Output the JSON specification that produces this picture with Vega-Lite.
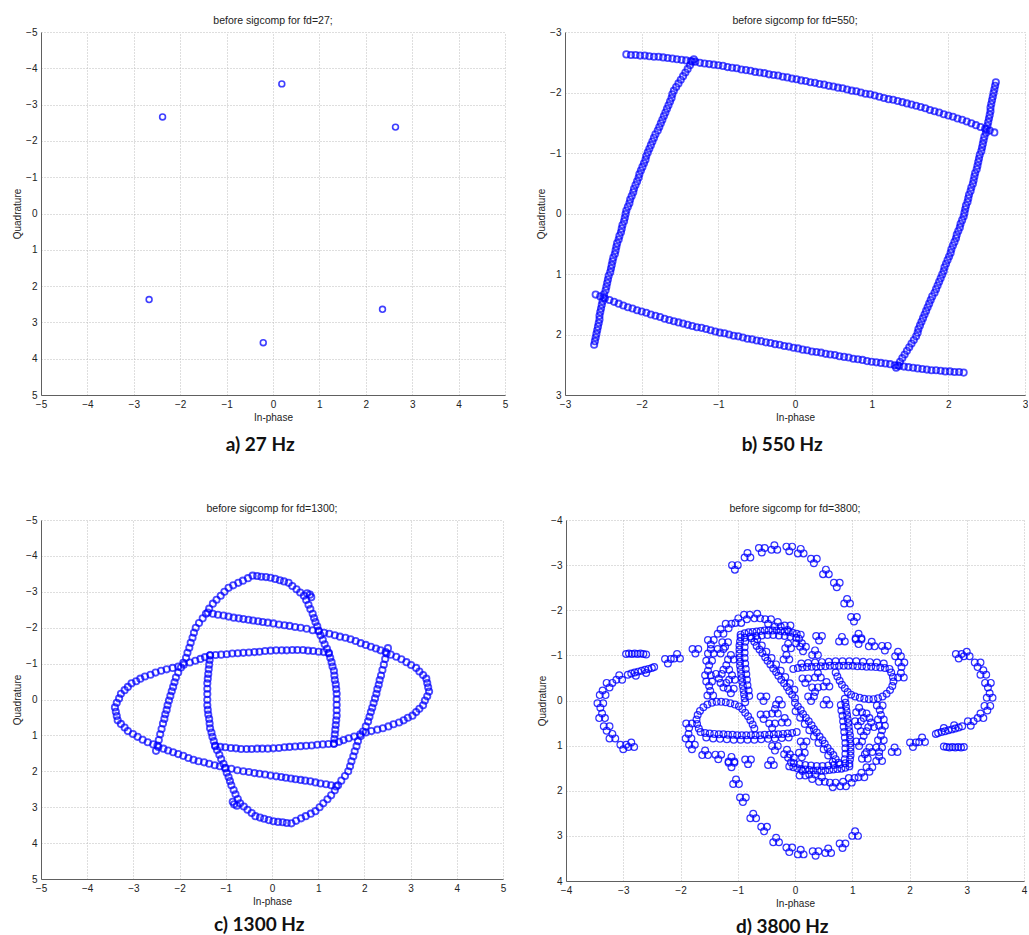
{
"$schema": "https://vega.github.io/schema/vega-lite/v6.json",
"background": "white",
"padding": {"left": 12, "top": 15, "right": 0, "bottom": 0},
"config": {
  "view": {"stroke": null},
  "axis": {"grid": true, "gridColor": "#bdbdbd", "gridDash": [1, 2], "gridWidth": 1, "domainColor": "#606060", "domainWidth": 1, "ticks": false, "labelFont": "Liberation Sans", "labelFontSize": 10, "labelColor": "#222", "labelPadding": 4, "labelFlush": false, "labelOverlap": false, "titleFont": "Liberation Sans", "titleFontSize": 10, "titleFontWeight": "normal", "titleColor": "#222", "titlePadding": 3}
},
"datasets": {
"a": [{"x":-2.38,"y":-2.66},{"x":0.19,"y":-3.57},{"x":2.64,"y":-2.38},{"x":-2.67,"y":2.37},{"x":-0.21,"y":3.56},{"x":2.36,"y":2.64}],
"b": [
{"x":-2.20,"y":-2.63},{"x":-2.14,"y":-2.62},{"x":-2.08,"y":-2.62},{"x":-2.02,"y":-2.61},{"x":-1.96,"y":-2.61},{"x":-1.90,"y":-2.60},{"x":-1.84,"y":-2.59},{"x":-1.78,"y":-2.59},{"x":-1.72,"y":-2.58},{"x":-1.66,"y":-2.57},{"x":-1.60,"y":-2.56},{"x":-1.54,"y":-2.55},{"x":-1.48,"y":-2.54},{"x":-1.42,"y":-2.53},{"x":-1.36,"y":-2.52},{"x":-1.30,"y":-2.51},{"x":-1.24,"y":-2.49},{"x":-1.18,"y":-2.48},{"x":-1.12,"y":-2.47},{"x":-1.06,"y":-2.46},{"x":-1.00,"y":-2.45},{"x":-0.94,"y":-2.44},{"x":-0.88,"y":-2.42},{"x":-0.82,"y":-2.41},{"x":-0.76,"y":-2.40},{"x":-0.70,"y":-2.38},{"x":-0.64,"y":-2.37},{"x":-0.58,"y":-2.36},{"x":-0.52,"y":-2.34},{"x":-0.46,"y":-2.33},{"x":-0.40,"y":-2.32},{"x":-0.34,"y":-2.30},{"x":-0.28,"y":-2.29},{"x":-0.22,"y":-2.28},{"x":-0.16,"y":-2.26},{"x":-0.10,"y":-2.25},{"x":-0.04,"y":-2.23},{"x":0.02,"y":-2.22},{"x":0.08,"y":-2.20},{"x":0.14,"y":-2.19},{"x":0.20,"y":-2.17},{"x":0.26,"y":-2.16},{"x":0.32,"y":-2.14},{"x":0.38,"y":-2.13},{"x":0.44,"y":-2.11},{"x":0.50,"y":-2.10},{"x":0.56,"y":-2.08},{"x":0.62,"y":-2.07},{"x":0.68,"y":-2.05},{"x":0.74,"y":-2.03},{"x":0.80,"y":-2.02},{"x":0.86,"y":-2.00},{"x":0.92,"y":-1.98},{"x":0.98,"y":-1.97},{"x":1.04,"y":-1.95},{"x":1.10,"y":-1.93},{"x":1.16,"y":-1.91},{"x":1.22,"y":-1.89},{"x":1.28,"y":-1.88},{"x":1.34,"y":-1.86},{"x":1.40,"y":-1.84},{"x":1.46,"y":-1.82},{"x":1.52,"y":-1.80},{"x":1.58,"y":-1.78},{"x":1.64,"y":-1.76},{"x":1.70,"y":-1.74},{"x":1.76,"y":-1.71},{"x":1.82,"y":-1.69},{"x":1.88,"y":-1.67},{"x":1.94,"y":-1.64},{"x":2.00,"y":-1.62},{"x":2.06,"y":-1.60},{"x":2.12,"y":-1.57},{"x":2.18,"y":-1.55},{"x":2.24,"y":-1.52},{"x":2.30,"y":-1.49},{"x":2.36,"y":-1.46},{"x":2.42,"y":-1.43},{"x":2.48,"y":-1.40},{"x":2.54,"y":-1.37},{"x":2.60,"y":-1.34},
{"x":2.20,"y":2.63},{"x":2.14,"y":2.62},{"x":2.08,"y":2.62},{"x":2.02,"y":2.61},{"x":1.96,"y":2.61},{"x":1.90,"y":2.60},{"x":1.84,"y":2.59},{"x":1.78,"y":2.59},{"x":1.72,"y":2.58},{"x":1.66,"y":2.57},{"x":1.60,"y":2.56},{"x":1.54,"y":2.55},{"x":1.48,"y":2.54},{"x":1.42,"y":2.53},{"x":1.36,"y":2.52},{"x":1.30,"y":2.51},{"x":1.24,"y":2.49},{"x":1.18,"y":2.48},{"x":1.12,"y":2.47},{"x":1.06,"y":2.46},{"x":1.00,"y":2.45},{"x":0.94,"y":2.44},{"x":0.88,"y":2.42},{"x":0.82,"y":2.41},{"x":0.76,"y":2.40},{"x":0.70,"y":2.38},{"x":0.64,"y":2.37},{"x":0.58,"y":2.36},{"x":0.52,"y":2.34},{"x":0.46,"y":2.33},{"x":0.40,"y":2.32},{"x":0.34,"y":2.30},{"x":0.28,"y":2.29},{"x":0.22,"y":2.28},{"x":0.16,"y":2.26},{"x":0.10,"y":2.25},{"x":0.04,"y":2.23},{"x":-0.02,"y":2.22},{"x":-0.08,"y":2.20},{"x":-0.14,"y":2.19},{"x":-0.20,"y":2.17},{"x":-0.26,"y":2.16},{"x":-0.32,"y":2.14},{"x":-0.38,"y":2.13},{"x":-0.44,"y":2.11},{"x":-0.50,"y":2.10},{"x":-0.56,"y":2.08},{"x":-0.62,"y":2.07},{"x":-0.68,"y":2.05},{"x":-0.74,"y":2.03},{"x":-0.80,"y":2.02},{"x":-0.86,"y":2.00},{"x":-0.92,"y":1.98},{"x":-0.98,"y":1.97},{"x":-1.04,"y":1.95},{"x":-1.10,"y":1.93},{"x":-1.16,"y":1.91},{"x":-1.22,"y":1.89},{"x":-1.28,"y":1.88},{"x":-1.34,"y":1.86},{"x":-1.40,"y":1.84},{"x":-1.46,"y":1.82},{"x":-1.52,"y":1.80},{"x":-1.58,"y":1.78},{"x":-1.64,"y":1.76},{"x":-1.70,"y":1.74},{"x":-1.76,"y":1.71},{"x":-1.82,"y":1.69},{"x":-1.88,"y":1.67},{"x":-1.94,"y":1.64},{"x":-2.00,"y":1.62},{"x":-2.06,"y":1.60},{"x":-2.12,"y":1.57},{"x":-2.18,"y":1.55},{"x":-2.24,"y":1.52},{"x":-2.30,"y":1.49},{"x":-2.36,"y":1.46},{"x":-2.42,"y":1.43},{"x":-2.48,"y":1.40},{"x":-2.54,"y":1.37},{"x":-2.60,"y":1.34},
{"x":2.62,"y":-2.17},{"x":2.61,"y":-2.11},{"x":2.60,"y":-2.05},{"x":2.59,"y":-1.99},{"x":2.58,"y":-1.93},{"x":2.57,"y":-1.87},{"x":2.56,"y":-1.81},{"x":2.55,"y":-1.75},{"x":2.55,"y":-1.69},{"x":2.54,"y":-1.63},{"x":2.53,"y":-1.57},{"x":2.52,"y":-1.51},{"x":2.51,"y":-1.45},{"x":2.50,"y":-1.39},{"x":2.49,"y":-1.33},{"x":2.47,"y":-1.27},{"x":2.46,"y":-1.21},{"x":2.45,"y":-1.15},{"x":2.44,"y":-1.09},{"x":2.43,"y":-1.03},{"x":2.41,"y":-0.97},{"x":2.40,"y":-0.91},{"x":2.39,"y":-0.85},{"x":2.38,"y":-0.79},{"x":2.37,"y":-0.73},{"x":2.35,"y":-0.67},{"x":2.34,"y":-0.61},{"x":2.33,"y":-0.55},{"x":2.32,"y":-0.49},{"x":2.30,"y":-0.43},{"x":2.29,"y":-0.37},{"x":2.27,"y":-0.31},{"x":2.26,"y":-0.25},{"x":2.25,"y":-0.19},{"x":2.23,"y":-0.13},{"x":2.22,"y":-0.07},{"x":2.21,"y":-0.01},{"x":2.20,"y":0.05},{"x":2.18,"y":0.11},{"x":2.16,"y":0.17},{"x":2.15,"y":0.23},{"x":2.13,"y":0.29},{"x":2.11,"y":0.35},{"x":2.10,"y":0.41},{"x":2.08,"y":0.47},{"x":2.06,"y":0.53},{"x":2.04,"y":0.59},{"x":2.03,"y":0.65},{"x":2.01,"y":0.71},{"x":1.99,"y":0.77},{"x":1.97,"y":0.83},{"x":1.95,"y":0.89},{"x":1.94,"y":0.95},{"x":1.92,"y":1.01},{"x":1.90,"y":1.07},{"x":1.88,"y":1.13},{"x":1.86,"y":1.19},{"x":1.84,"y":1.25},{"x":1.82,"y":1.31},{"x":1.79,"y":1.37},{"x":1.77,"y":1.43},{"x":1.75,"y":1.49},{"x":1.73,"y":1.55},{"x":1.71,"y":1.61},{"x":1.69,"y":1.67},{"x":1.67,"y":1.73},{"x":1.65,"y":1.79},{"x":1.63,"y":1.85},{"x":1.61,"y":1.91},{"x":1.60,"y":1.97},{"x":1.58,"y":2.03},{"x":1.55,"y":2.09},{"x":1.52,"y":2.15},{"x":1.49,"y":2.21},{"x":1.46,"y":2.27},{"x":1.43,"y":2.33},{"x":1.40,"y":2.39},{"x":1.37,"y":2.45},{"x":1.34,"y":2.51},{"x":1.32,"y":2.55},
{"x":-2.62,"y":2.17},{"x":-2.61,"y":2.11},{"x":-2.60,"y":2.05},{"x":-2.59,"y":1.99},{"x":-2.58,"y":1.93},{"x":-2.57,"y":1.87},{"x":-2.56,"y":1.81},{"x":-2.55,"y":1.75},{"x":-2.55,"y":1.69},{"x":-2.54,"y":1.63},{"x":-2.53,"y":1.57},{"x":-2.52,"y":1.51},{"x":-2.51,"y":1.45},{"x":-2.50,"y":1.39},{"x":-2.49,"y":1.33},{"x":-2.47,"y":1.27},{"x":-2.46,"y":1.21},{"x":-2.45,"y":1.15},{"x":-2.44,"y":1.09},{"x":-2.43,"y":1.03},{"x":-2.41,"y":0.97},{"x":-2.40,"y":0.91},{"x":-2.39,"y":0.85},{"x":-2.38,"y":0.79},{"x":-2.37,"y":0.73},{"x":-2.35,"y":0.67},{"x":-2.34,"y":0.61},{"x":-2.33,"y":0.55},{"x":-2.32,"y":0.49},{"x":-2.30,"y":0.43},{"x":-2.29,"y":0.37},{"x":-2.27,"y":0.31},{"x":-2.26,"y":0.25},{"x":-2.25,"y":0.19},{"x":-2.23,"y":0.13},{"x":-2.22,"y":0.07},{"x":-2.21,"y":0.01},{"x":-2.20,"y":-0.05},{"x":-2.18,"y":-0.11},{"x":-2.16,"y":-0.17},{"x":-2.15,"y":-0.23},{"x":-2.13,"y":-0.29},{"x":-2.11,"y":-0.35},{"x":-2.10,"y":-0.41},{"x":-2.08,"y":-0.47},{"x":-2.06,"y":-0.53},{"x":-2.04,"y":-0.59},{"x":-2.03,"y":-0.65},{"x":-2.01,"y":-0.71},{"x":-1.99,"y":-0.77},{"x":-1.97,"y":-0.83},{"x":-1.95,"y":-0.89},{"x":-1.94,"y":-0.95},{"x":-1.92,"y":-1.01},{"x":-1.90,"y":-1.07},{"x":-1.88,"y":-1.13},{"x":-1.86,"y":-1.19},{"x":-1.84,"y":-1.25},{"x":-1.82,"y":-1.31},{"x":-1.79,"y":-1.37},{"x":-1.77,"y":-1.43},{"x":-1.75,"y":-1.49},{"x":-1.73,"y":-1.55},{"x":-1.71,"y":-1.61},{"x":-1.69,"y":-1.67},{"x":-1.67,"y":-1.73},{"x":-1.65,"y":-1.79},{"x":-1.63,"y":-1.85},{"x":-1.61,"y":-1.91},{"x":-1.60,"y":-1.97},{"x":-1.58,"y":-2.03},{"x":-1.55,"y":-2.09},{"x":-1.52,"y":-2.15},{"x":-1.49,"y":-2.21},{"x":-1.46,"y":-2.27},{"x":-1.43,"y":-2.33},{"x":-1.40,"y":-2.39},{"x":-1.37,"y":-2.45},{"x":-1.34,"y":-2.51},{"x":-1.32,"y":-2.55}
],
"c": [
{"x":-2.51,"y":1.43},{"x":-2.48,"y":1.28},{"x":-2.45,"y":1.13},{"x":-2.42,"y":0.97},{"x":-2.39,"y":0.82},{"x":-2.36,"y":0.67},{"x":-2.33,"y":0.54},{"x":-2.31,"y":0.41},{"x":-2.28,"y":0.29},{"x":-2.26,"y":0.16},{"x":-2.23,"y":0.03},{"x":-2.20,"y":-0.10},{"x":-2.17,"y":-0.23},{"x":-2.14,"y":-0.35},{"x":-2.11,"y":-0.48},{"x":-2.08,"y":-0.61},{"x":-2.03,"y":-0.75},{"x":-1.97,"y":-0.89},{"x":-1.92,"y":-1.02},{"x":-1.86,"y":-1.16},{"x":-1.83,"y":-1.30},{"x":-1.79,"y":-1.44},{"x":-1.76,"y":-1.58},{"x":-1.72,"y":-1.72},{"x":-1.69,"y":-1.86},{"x":-1.65,"y":-2.00},{"x":-1.58,"y":-2.13},{"x":-1.50,"y":-2.26},{"x":-1.43,"y":-2.39},{"x":-1.36,"y":-2.53},{"x":-1.28,"y":-2.67},{"x":-1.20,"y":-2.78},{"x":-1.11,"y":-2.89},{"x":-1.03,"y":-3.00},{"x":-0.94,"y":-3.11},{"x":-0.84,"y":-3.18},{"x":-0.73,"y":-3.25},{"x":-0.63,"y":-3.31},{"x":-0.52,"y":-3.38},{"x":-0.42,"y":-3.45},{"x":-0.32,"y":-3.44},{"x":-0.23,"y":-3.42},{"x":-0.13,"y":-3.41},{"x":-0.03,"y":-3.39},{"x":0.07,"y":-3.36},{"x":0.17,"y":-3.32},{"x":0.26,"y":-3.29},{"x":0.36,"y":-3.25},{"x":0.44,"y":-3.16},{"x":0.53,"y":-3.07},{"x":0.61,"y":-2.98},{"x":0.69,"y":-2.89},{"x":0.74,"y":-2.77},{"x":0.79,"y":-2.64},{"x":0.83,"y":-2.52},{"x":0.88,"y":-2.39},{"x":0.91,"y":-2.27},{"x":0.94,"y":-2.16},{"x":0.98,"y":-2.04},{"x":1.01,"y":-1.92},{"x":1.05,"y":-1.79},{"x":1.10,"y":-1.66},{"x":1.14,"y":-1.54},{"x":1.19,"y":-1.41},{"x":1.23,"y":-1.28},{"x":1.26,"y":-1.16},{"x":1.29,"y":-1.04},{"x":1.31,"y":-0.92},{"x":1.34,"y":-0.80},{"x":1.35,"y":-0.67},{"x":1.36,"y":-0.54},{"x":1.38,"y":-0.42},{"x":1.39,"y":-0.29},{"x":1.40,"y":-0.16},{"x":1.40,"y":-0.01},{"x":1.40,"y":0.15},{"x":1.40,"y":0.30},{"x":1.40,"y":0.45},{"x":1.39,"y":0.58},{"x":1.38,"y":0.71},{"x":1.37,"y":0.84},{"x":1.36,"y":0.97},{"x":1.35,"y":1.10},{"x":1.34,"y":1.23},
{"x":2.51,"y":-1.43},{"x":2.48,"y":-1.28},{"x":2.45,"y":-1.13},{"x":2.42,"y":-0.97},{"x":2.39,"y":-0.82},{"x":2.36,"y":-0.67},{"x":2.33,"y":-0.54},{"x":2.31,"y":-0.41},{"x":2.28,"y":-0.29},{"x":2.26,"y":-0.16},{"x":2.23,"y":-0.03},{"x":2.20,"y":0.10},{"x":2.17,"y":0.23},{"x":2.14,"y":0.35},{"x":2.11,"y":0.48},{"x":2.08,"y":0.61},{"x":2.03,"y":0.75},{"x":1.97,"y":0.89},{"x":1.92,"y":1.02},{"x":1.86,"y":1.16},{"x":1.83,"y":1.30},{"x":1.79,"y":1.44},{"x":1.76,"y":1.58},{"x":1.72,"y":1.72},{"x":1.69,"y":1.86},{"x":1.65,"y":2.00},{"x":1.58,"y":2.13},{"x":1.50,"y":2.26},{"x":1.43,"y":2.39},{"x":1.36,"y":2.53},{"x":1.28,"y":2.67},{"x":1.20,"y":2.78},{"x":1.11,"y":2.89},{"x":1.03,"y":3.00},{"x":0.94,"y":3.11},{"x":0.84,"y":3.18},{"x":0.73,"y":3.25},{"x":0.63,"y":3.31},{"x":0.52,"y":3.38},{"x":0.42,"y":3.45},{"x":0.32,"y":3.44},{"x":0.23,"y":3.42},{"x":0.13,"y":3.41},{"x":0.03,"y":3.39},{"x":-0.07,"y":3.36},{"x":-0.17,"y":3.32},{"x":-0.26,"y":3.29},{"x":-0.36,"y":3.25},{"x":-0.44,"y":3.16},{"x":-0.53,"y":3.07},{"x":-0.61,"y":2.98},{"x":-0.69,"y":2.89},{"x":-0.74,"y":2.77},{"x":-0.79,"y":2.64},{"x":-0.83,"y":2.52},{"x":-0.88,"y":2.39},{"x":-0.91,"y":2.27},{"x":-0.94,"y":2.16},{"x":-0.98,"y":2.04},{"x":-1.01,"y":1.92},{"x":-1.05,"y":1.79},{"x":-1.10,"y":1.66},{"x":-1.14,"y":1.54},{"x":-1.19,"y":1.41},{"x":-1.23,"y":1.28},{"x":-1.26,"y":1.16},{"x":-1.29,"y":1.04},{"x":-1.31,"y":0.92},{"x":-1.34,"y":0.80},{"x":-1.35,"y":0.67},{"x":-1.36,"y":0.54},{"x":-1.38,"y":0.42},{"x":-1.39,"y":0.29},{"x":-1.40,"y":0.16},{"x":-1.40,"y":0.01},{"x":-1.40,"y":-0.15},{"x":-1.40,"y":-0.30},{"x":-1.40,"y":-0.45},{"x":-1.39,"y":-0.58},{"x":-1.38,"y":-0.71},{"x":-1.37,"y":-0.84},{"x":-1.36,"y":-0.97},{"x":-1.35,"y":-1.10},{"x":-1.34,"y":-1.23},
{"x":-1.23,"y":1.30},{"x":-1.12,"y":1.32},{"x":-1.01,"y":1.33},{"x":-0.89,"y":1.35},{"x":-0.78,"y":1.36},{"x":-0.67,"y":1.38},{"x":-0.55,"y":1.38},{"x":-0.44,"y":1.38},{"x":-0.32,"y":1.37},{"x":-0.21,"y":1.37},{"x":-0.09,"y":1.37},{"x":0.03,"y":1.36},{"x":0.15,"y":1.35},{"x":0.27,"y":1.33},{"x":0.38,"y":1.32},{"x":0.50,"y":1.31},{"x":0.62,"y":1.30},{"x":0.74,"y":1.29},{"x":0.86,"y":1.28},{"x":0.98,"y":1.26},{"x":1.10,"y":1.25},{"x":1.22,"y":1.24},{"x":1.34,"y":1.23},{"x":1.45,"y":1.18},{"x":1.55,"y":1.13},{"x":1.66,"y":1.08},{"x":1.78,"y":1.03},{"x":1.91,"y":0.97},{"x":2.03,"y":0.92},{"x":2.15,"y":0.88},{"x":2.28,"y":0.84},{"x":2.40,"y":0.80},{"x":2.52,"y":0.75},{"x":2.63,"y":0.69},{"x":2.75,"y":0.64},{"x":2.85,"y":0.58},{"x":2.94,"y":0.51},{"x":3.04,"y":0.45},{"x":3.12,"y":0.35},{"x":3.19,"y":0.26},{"x":3.27,"y":0.16},{"x":3.31,"y":0.03},{"x":3.36,"y":-0.09},{"x":3.40,"y":-0.22},{"x":3.38,"y":-0.34},{"x":3.36,"y":-0.46},{"x":3.34,"y":-0.58},{"x":3.27,"y":-0.68},{"x":3.19,"y":-0.78},{"x":3.12,"y":-0.88},{"x":3.01,"y":-0.96},{"x":2.91,"y":-1.04},{"x":2.80,"y":-1.12},{"x":2.69,"y":-1.19},{"x":2.57,"y":-1.25},{"x":2.46,"y":-1.32},{"x":2.35,"y":-1.37},{"x":2.25,"y":-1.42},{"x":2.14,"y":-1.47},{"x":2.03,"y":-1.52},{"x":1.92,"y":-1.57},{"x":1.81,"y":-1.63},{"x":1.70,"y":-1.68},{"x":1.59,"y":-1.72},{"x":1.47,"y":-1.75},{"x":1.36,"y":-1.79},{"x":1.24,"y":-1.83},{"x":1.13,"y":-1.86},{"x":1.01,"y":-1.90},{"x":0.88,"y":-1.93},{"x":0.75,"y":-1.97},{"x":0.62,"y":-2.00},{"x":0.50,"y":-2.02},{"x":0.38,"y":-2.05},{"x":0.27,"y":-2.07},{"x":0.15,"y":-2.09},{"x":0.03,"y":-2.12},{"x":-0.09,"y":-2.14},{"x":-0.20,"y":-2.16},{"x":-0.30,"y":-2.18},{"x":-0.41,"y":-2.20},{"x":-0.51,"y":-2.22},{"x":-0.62,"y":-2.24},{"x":-0.72,"y":-2.26},{"x":-0.83,"y":-2.28},{"x":-0.94,"y":-2.31},{"x":-1.05,"y":-2.34},{"x":-1.17,"y":-2.36},{"x":-1.28,"y":-2.39},{"x":-1.39,"y":-2.42},
{"x":1.23,"y":-1.30},{"x":1.12,"y":-1.32},{"x":1.01,"y":-1.33},{"x":0.89,"y":-1.35},{"x":0.78,"y":-1.36},{"x":0.67,"y":-1.38},{"x":0.55,"y":-1.38},{"x":0.44,"y":-1.38},{"x":0.32,"y":-1.37},{"x":0.21,"y":-1.37},{"x":0.09,"y":-1.37},{"x":-0.03,"y":-1.36},{"x":-0.15,"y":-1.35},{"x":-0.27,"y":-1.33},{"x":-0.38,"y":-1.32},{"x":-0.50,"y":-1.31},{"x":-0.62,"y":-1.30},{"x":-0.74,"y":-1.29},{"x":-0.86,"y":-1.28},{"x":-0.98,"y":-1.26},{"x":-1.10,"y":-1.25},{"x":-1.22,"y":-1.24},{"x":-1.34,"y":-1.23},{"x":-1.45,"y":-1.18},{"x":-1.55,"y":-1.13},{"x":-1.66,"y":-1.08},{"x":-1.78,"y":-1.03},{"x":-1.91,"y":-0.97},{"x":-2.03,"y":-0.92},{"x":-2.15,"y":-0.88},{"x":-2.28,"y":-0.84},{"x":-2.40,"y":-0.80},{"x":-2.52,"y":-0.75},{"x":-2.63,"y":-0.69},{"x":-2.75,"y":-0.64},{"x":-2.85,"y":-0.58},{"x":-2.94,"y":-0.51},{"x":-3.04,"y":-0.45},{"x":-3.12,"y":-0.35},{"x":-3.19,"y":-0.26},{"x":-3.27,"y":-0.16},{"x":-3.31,"y":-0.03},{"x":-3.36,"y":0.09},{"x":-3.40,"y":0.22},{"x":-3.38,"y":0.34},{"x":-3.36,"y":0.46},{"x":-3.34,"y":0.58},{"x":-3.27,"y":0.68},{"x":-3.19,"y":0.78},{"x":-3.12,"y":0.88},{"x":-3.01,"y":0.96},{"x":-2.91,"y":1.04},{"x":-2.80,"y":1.12},{"x":-2.69,"y":1.19},{"x":-2.57,"y":1.25},{"x":-2.46,"y":1.32},{"x":-2.35,"y":1.37},{"x":-2.25,"y":1.42},{"x":-2.14,"y":1.47},{"x":-2.03,"y":1.52},{"x":-1.92,"y":1.57},{"x":-1.81,"y":1.63},{"x":-1.70,"y":1.68},{"x":-1.59,"y":1.72},{"x":-1.47,"y":1.75},{"x":-1.36,"y":1.79},{"x":-1.24,"y":1.83},{"x":-1.13,"y":1.86},{"x":-1.01,"y":1.90},{"x":-0.88,"y":1.93},{"x":-0.75,"y":1.97},{"x":-0.62,"y":2.00},{"x":-0.50,"y":2.02},{"x":-0.38,"y":2.05},{"x":-0.27,"y":2.07},{"x":-0.15,"y":2.09},{"x":-0.03,"y":2.12},{"x":0.09,"y":2.14},{"x":0.20,"y":2.16},{"x":0.30,"y":2.18},{"x":0.41,"y":2.20},{"x":0.51,"y":2.22},{"x":0.62,"y":2.24},{"x":0.72,"y":2.26},{"x":0.83,"y":2.28},{"x":0.94,"y":2.31},{"x":1.05,"y":2.34},{"x":1.17,"y":2.36},{"x":1.28,"y":2.39},{"x":1.39,"y":2.42},
{"x":0.76,"y":-2.96},{"x":0.82,"y":-2.92},{"x":0.85,"y":-2.85},{"x":-0.76,"y":2.96},{"x":-0.82,"y":2.92},{"x":-0.85,"y":2.85}
],
"d": [
{"x":-1.10,"y":-3.00},{"x":-1.00,"y":-3.00},{"x":-1.05,"y":-2.90},{"x":-0.88,"y":-3.17},{"x":-0.78,"y":-3.17},{"x":-0.83,"y":-3.27},{"x":-0.63,"y":-3.38},{"x":-0.53,"y":-3.38},{"x":-0.58,"y":-3.28},{"x":-0.41,"y":-3.34},{"x":-0.31,"y":-3.34},{"x":-0.36,"y":-3.44},{"x":-0.15,"y":-3.41},{"x":-0.05,"y":-3.41},{"x":-0.10,"y":-3.31},{"x":0.05,"y":-3.26},{"x":0.15,"y":-3.26},{"x":0.10,"y":-3.36},{"x":0.28,"y":-3.14},{"x":0.38,"y":-3.14},{"x":0.33,"y":-3.04},{"x":0.49,"y":-2.80},{"x":0.59,"y":-2.80},{"x":0.54,"y":-2.90},{"x":0.68,"y":-2.61},{"x":0.78,"y":-2.61},{"x":0.73,"y":-2.51},{"x":0.86,"y":-2.15},{"x":0.96,"y":-2.15},{"x":0.91,"y":-2.25},{"x":0.98,"y":-1.85},{"x":1.08,"y":-1.85},{"x":1.03,"y":-1.75},{"x":1.06,"y":-1.38},{"x":1.16,"y":-1.38},{"x":1.11,"y":-1.48},
{"x":-2.95,"y":-1.03},{"x":-2.90,"y":-1.04},{"x":-2.85,"y":-1.03},{"x":-2.80,"y":-1.04},{"x":-2.75,"y":-1.03},{"x":-2.70,"y":-1.04},{"x":-2.65,"y":-1.03},{"x":-2.60,"y":-1.02},{"x":-2.92,"y":-0.57},{"x":-2.86,"y":-0.60},{"x":-2.80,"y":-0.62},{"x":-2.74,"y":-0.64},{"x":-2.68,"y":-0.66},{"x":-2.62,"y":-0.68},{"x":-2.56,"y":-0.70},{"x":-2.50,"y":-0.72},{"x":-2.46,"y":-0.74},{"x":-2.78,"y":-0.55},{"x":-2.60,"y":-0.61},
{"x":-2.27,"y":-0.92},{"x":-2.17,"y":-0.92},{"x":-2.22,"y":-0.82},{"x":-2.11,"y":-0.93},{"x":-2.01,"y":-0.93},{"x":-2.06,"y":-1.03},{"x":-1.79,"y":-1.14},{"x":-1.69,"y":-1.14},{"x":-1.74,"y":-1.04},
{"x":-3.12,"y":-0.46},{"x":-3.02,"y":-0.46},{"x":-3.07,"y":-0.56},{"x":-3.29,"y":-0.39},{"x":-3.19,"y":-0.39},{"x":-3.24,"y":-0.29},{"x":-3.41,"y":-0.12},{"x":-3.31,"y":-0.12},{"x":-3.36,"y":-0.22},{"x":-3.45,"y":0.06},{"x":-3.35,"y":0.06},{"x":-3.40,"y":0.16},{"x":-3.42,"y":0.39},{"x":-3.32,"y":0.39},{"x":-3.37,"y":0.29},{"x":-3.34,"y":0.57},{"x":-3.24,"y":0.57},{"x":-3.29,"y":0.67},{"x":-3.24,"y":0.84},{"x":-3.14,"y":0.84},{"x":-3.19,"y":0.74},{"x":-3.05,"y":0.98},{"x":-2.95,"y":0.98},{"x":-3.00,"y":1.08},{"x":-2.91,"y":1.03},{"x":-2.81,"y":1.03},{"x":-2.86,"y":0.93},
{"x":-0.95,"y":-1.46},{"x":-0.88,"y":-1.49},{"x":-0.81,"y":-1.51},{"x":-0.74,"y":-1.52},{"x":-0.67,"y":-1.53},{"x":-0.60,"y":-1.54},{"x":-0.53,"y":-1.55},{"x":-0.46,"y":-1.55},{"x":-0.39,"y":-1.55},{"x":-0.32,"y":-1.55},{"x":-0.25,"y":-1.54},{"x":-0.18,"y":-1.53},{"x":-0.11,"y":-1.52},{"x":-0.04,"y":-1.50},{"x":0.03,"y":-1.48},{"x":0.10,"y":-1.46},{"x":-0.88,"y":-1.39},{"x":-0.78,"y":-1.42},{"x":-0.68,"y":-1.43},{"x":-0.58,"y":-1.44},{"x":-0.48,"y":-1.45},{"x":-0.38,"y":-1.45},{"x":-0.28,"y":-1.44},{"x":-0.18,"y":-1.43},{"x":-0.08,"y":-1.41},{"x":0.02,"y":-1.39},
{"x":-0.95,"y":-1.40},{"x":-0.96,"y":-1.31},{"x":-0.97,"y":-1.22},{"x":-0.97,"y":-1.13},{"x":-0.97,"y":-1.04},{"x":-0.97,"y":-0.95},{"x":-0.96,"y":-0.86},{"x":-0.96,"y":-0.77},{"x":-0.95,"y":-0.68},{"x":-0.94,"y":-0.59},{"x":-0.93,"y":-0.50},{"x":-0.92,"y":-0.41},{"x":-0.91,"y":-0.32},{"x":-0.90,"y":-0.23},{"x":-0.89,"y":-0.14},{"x":-0.88,"y":-0.05},{"x":-0.87,"y":0.04},{"x":-0.87,"y":-1.30},{"x":-0.88,"y":-1.18},{"x":-0.88,"y":-1.06},{"x":-0.88,"y":-0.94},{"x":-0.87,"y":-0.82},{"x":-0.86,"y":-0.70},{"x":-0.85,"y":-0.58},{"x":-0.84,"y":-0.46},{"x":-0.83,"y":-0.34},{"x":-0.81,"y":-0.22},{"x":-0.80,"y":-0.10},
{"x":-0.76,"y":-1.38},{"x":-0.71,"y":-1.30},{"x":-0.67,"y":-1.21},{"x":-0.62,"y":-1.13},{"x":-0.57,"y":-1.05},{"x":-0.52,"y":-0.96},{"x":-0.48,"y":-0.88},{"x":-0.43,"y":-0.80},{"x":-0.38,"y":-0.71},{"x":-0.33,"y":-0.63},{"x":-0.29,"y":-0.55},{"x":-0.24,"y":-0.46},{"x":-0.19,"y":-0.38},{"x":-0.14,"y":-0.30},{"x":-0.10,"y":-0.21},{"x":-0.05,"y":-0.13},{"x":0.00,"y":-0.05},{"x":-0.66,"y":-1.36},{"x":-0.58,"y":-1.22},{"x":-0.50,"y":-1.08},{"x":-0.41,"y":-0.94},{"x":-0.33,"y":-0.80},{"x":-0.25,"y":-0.66},{"x":-0.17,"y":-0.52},{"x":-0.09,"y":-0.38},{"x":-0.01,"y":-0.24},
{"x":-1.65,"y":0.70},{"x":-1.57,"y":0.72},{"x":-1.49,"y":0.73},{"x":-1.41,"y":0.74},{"x":-1.33,"y":0.75},{"x":-1.25,"y":0.75},{"x":-1.17,"y":0.76},{"x":-1.09,"y":0.76},{"x":-1.01,"y":0.77},{"x":-0.93,"y":0.77},{"x":-0.85,"y":0.77},{"x":-0.77,"y":0.77},{"x":-0.69,"y":0.77},{"x":-0.61,"y":0.77},{"x":-0.53,"y":0.76},{"x":-0.45,"y":0.76},{"x":-0.37,"y":0.75},{"x":-0.29,"y":0.75},{"x":-0.21,"y":0.74},{"x":-0.13,"y":0.73},{"x":-0.05,"y":0.72},{"x":0.03,"y":0.70},{"x":-1.55,"y":0.82},{"x":-1.43,"y":0.84},{"x":-1.31,"y":0.85},{"x":-1.19,"y":0.86},{"x":-1.07,"y":0.87},{"x":-0.95,"y":0.87},{"x":-0.83,"y":0.87},{"x":-0.71,"y":0.87},{"x":-0.59,"y":0.86},{"x":-0.47,"y":0.85},{"x":-0.35,"y":0.84},{"x":-0.23,"y":0.83},{"x":-0.11,"y":0.82},
{"x":-1.68,"y":0.62},{"x":-1.71,"y":0.52},{"x":-1.72,"y":0.42},{"x":-1.70,"y":0.32},{"x":-1.66,"y":0.23},{"x":-1.60,"y":0.15},{"x":-1.53,"y":0.09},{"x":-1.45,"y":0.05},{"x":-1.37,"y":0.03},{"x":-1.29,"y":0.03},{"x":-1.21,"y":0.04},{"x":-1.13,"y":0.06},{"x":-1.05,"y":0.09},{"x":-0.98,"y":0.13},{"x":-0.92,"y":0.19},{"x":-0.87,"y":0.27},{"x":-0.82,"y":0.35},{"x":-0.78,"y":0.44},{"x":-0.74,"y":0.53},{"x":-0.71,"y":0.62},
{"x":-1.52,"y":-1.34},{"x":-1.42,"y":-1.34},{"x":-1.47,"y":-1.24},{"x":-1.52,"y":-1.04},{"x":-1.42,"y":-1.04},{"x":-1.47,"y":-1.14},{"x":-1.55,"y":-0.88},{"x":-1.45,"y":-0.88},{"x":-1.50,"y":-0.78},{"x":-1.57,"y":-0.56},{"x":-1.47,"y":-0.56},{"x":-1.52,"y":-0.66},{"x":-1.55,"y":-0.42},{"x":-1.45,"y":-0.42},{"x":-1.50,"y":-0.32},{"x":-1.53,"y":-0.11},{"x":-1.43,"y":-0.11},{"x":-1.48,"y":-0.21},
{"x":-1.90,"y":0.51},{"x":-1.80,"y":0.51},{"x":-1.85,"y":0.61},{"x":-1.91,"y":0.84},{"x":-1.81,"y":0.84},{"x":-1.86,"y":0.74},
{"x":-1.27,"y":-1.29},{"x":-1.17,"y":-1.29},{"x":-1.22,"y":-1.19},{"x":-1.25,"y":-0.68},{"x":-1.15,"y":-0.68},{"x":-1.20,"y":-0.78},{"x":-1.30,"y":-0.39},{"x":-1.20,"y":-0.39},{"x":-1.25,"y":-0.29},
{"x":-1.35,"y":-1.14},{"x":-1.25,"y":-1.14},{"x":-1.30,"y":-1.04},{"x":-1.17,"y":-0.91},{"x":-1.07,"y":-0.91},{"x":-1.12,"y":-1.01},{"x":-1.38,"y":-0.59},{"x":-1.28,"y":-0.59},{"x":-1.33,"y":-0.49},{"x":-1.15,"y":-0.46},{"x":-1.05,"y":-0.46},{"x":-1.10,"y":-0.56},{"x":-1.17,"y":-0.26},{"x":-1.07,"y":-0.26},{"x":-1.12,"y":-0.16},{"x":-0.20,"y":-0.91},{"x":-0.10,"y":-0.91},{"x":-0.15,"y":-1.01},{"x":-0.60,"y":-0.09},{"x":-0.50,"y":-0.09},{"x":-0.55,"y":0.01},{"x":-0.33,"y":0.09},{"x":-0.23,"y":0.09},{"x":-0.28,"y":-0.01},
{"x":-1.85,"y":0.98},{"x":-1.75,"y":0.98},{"x":-1.80,"y":1.08},{"x":-1.62,"y":1.21},{"x":-1.52,"y":1.21},{"x":-1.57,"y":1.11},{"x":-1.39,"y":1.20},{"x":-1.29,"y":1.20},{"x":-1.34,"y":1.30},{"x":-1.16,"y":1.35},{"x":-1.06,"y":1.35},{"x":-1.11,"y":1.25},{"x":-0.87,"y":1.31},{"x":-0.77,"y":1.31},{"x":-0.82,"y":1.41},{"x":-0.47,"y":1.43},{"x":-0.37,"y":1.43},{"x":-0.42,"y":1.33},{"x":-0.12,"y":1.27},{"x":-0.02,"y":1.27},{"x":-0.07,"y":1.37},
{"x":-1.35,"y":-1.48},{"x":-1.25,"y":-1.48},{"x":-1.30,"y":-1.58},{"x":-1.21,"y":-1.70},{"x":-1.11,"y":-1.70},{"x":-1.16,"y":-1.60},{"x":-1.04,"y":-1.72},{"x":-0.94,"y":-1.72},{"x":-0.99,"y":-1.82},{"x":-0.89,"y":-1.90},{"x":-0.79,"y":-1.90},{"x":-0.84,"y":-1.80},{"x":-0.71,"y":-1.82},{"x":-0.61,"y":-1.82},{"x":-0.66,"y":-1.92},{"x":-0.52,"y":-1.80},{"x":-0.42,"y":-1.80},{"x":-0.47,"y":-1.70},{"x":-0.35,"y":-1.64},{"x":-0.25,"y":-1.64},{"x":-0.30,"y":-1.74},{"x":-0.18,"y":-1.66},{"x":-0.08,"y":-1.66},{"x":-0.13,"y":-1.56},
{"x":-0.17,"y":-1.16},{"x":-0.07,"y":-1.16},{"x":-0.12,"y":-1.26},{"x":0.09,"y":-1.19},{"x":0.19,"y":-1.19},{"x":0.14,"y":-1.09},{"x":0.30,"y":-1.01},{"x":0.40,"y":-1.01},{"x":0.35,"y":-1.11},
{"x":-0.60,"y":0.31},{"x":-0.50,"y":0.31},{"x":-0.55,"y":0.41},{"x":-0.40,"y":0.29},{"x":-0.30,"y":0.29},{"x":-0.35,"y":0.19},{"x":-0.45,"y":0.51},{"x":-0.35,"y":0.51},{"x":-0.40,"y":0.61},{"x":-0.23,"y":0.49},{"x":-0.13,"y":0.49},{"x":-0.18,"y":0.39},
{"x":1.10,"y":3.00},{"x":1.00,"y":3.00},{"x":1.05,"y":2.90},{"x":0.88,"y":3.17},{"x":0.78,"y":3.17},{"x":0.83,"y":3.27},{"x":0.63,"y":3.38},{"x":0.53,"y":3.38},{"x":0.58,"y":3.28},{"x":0.41,"y":3.34},{"x":0.31,"y":3.34},{"x":0.36,"y":3.44},{"x":0.15,"y":3.41},{"x":0.05,"y":3.41},{"x":0.10,"y":3.31},{"x":-0.05,"y":3.26},{"x":-0.15,"y":3.26},{"x":-0.10,"y":3.36},{"x":-0.28,"y":3.14},{"x":-0.38,"y":3.14},{"x":-0.33,"y":3.04},{"x":-0.49,"y":2.80},{"x":-0.59,"y":2.80},{"x":-0.54,"y":2.90},{"x":-0.68,"y":2.61},{"x":-0.78,"y":2.61},{"x":-0.73,"y":2.51},{"x":-0.86,"y":2.15},{"x":-0.96,"y":2.15},{"x":-0.91,"y":2.25},{"x":-0.98,"y":1.85},{"x":-1.08,"y":1.85},{"x":-1.03,"y":1.75},{"x":-1.06,"y":1.38},{"x":-1.16,"y":1.38},{"x":-1.11,"y":1.48},
{"x":2.95,"y":1.03},{"x":2.90,"y":1.04},{"x":2.85,"y":1.03},{"x":2.80,"y":1.04},{"x":2.75,"y":1.03},{"x":2.70,"y":1.04},{"x":2.65,"y":1.03},{"x":2.60,"y":1.02},{"x":2.92,"y":0.57},{"x":2.86,"y":0.60},{"x":2.80,"y":0.62},{"x":2.74,"y":0.64},{"x":2.68,"y":0.66},{"x":2.62,"y":0.68},{"x":2.56,"y":0.70},{"x":2.50,"y":0.72},{"x":2.46,"y":0.74},{"x":2.78,"y":0.55},{"x":2.60,"y":0.61},
{"x":2.27,"y":0.92},{"x":2.17,"y":0.92},{"x":2.22,"y":0.82},{"x":2.11,"y":0.93},{"x":2.01,"y":0.93},{"x":2.06,"y":1.03},{"x":1.79,"y":1.14},{"x":1.69,"y":1.14},{"x":1.74,"y":1.04},
{"x":3.12,"y":0.46},{"x":3.02,"y":0.46},{"x":3.07,"y":0.56},{"x":3.29,"y":0.39},{"x":3.19,"y":0.39},{"x":3.24,"y":0.29},{"x":3.41,"y":0.12},{"x":3.31,"y":0.12},{"x":3.36,"y":0.22},{"x":3.45,"y":-0.06},{"x":3.35,"y":-0.06},{"x":3.40,"y":-0.16},{"x":3.42,"y":-0.39},{"x":3.32,"y":-0.39},{"x":3.37,"y":-0.29},{"x":3.34,"y":-0.57},{"x":3.24,"y":-0.57},{"x":3.29,"y":-0.67},{"x":3.24,"y":-0.84},{"x":3.14,"y":-0.84},{"x":3.19,"y":-0.74},{"x":3.05,"y":-0.98},{"x":2.95,"y":-0.98},{"x":3.00,"y":-1.08},{"x":2.91,"y":-1.03},{"x":2.81,"y":-1.03},{"x":2.86,"y":-0.93},
{"x":0.95,"y":1.46},{"x":0.88,"y":1.49},{"x":0.81,"y":1.51},{"x":0.74,"y":1.52},{"x":0.67,"y":1.53},{"x":0.60,"y":1.54},{"x":0.53,"y":1.55},{"x":0.46,"y":1.55},{"x":0.39,"y":1.55},{"x":0.32,"y":1.55},{"x":0.25,"y":1.54},{"x":0.18,"y":1.53},{"x":0.11,"y":1.52},{"x":0.04,"y":1.50},{"x":-0.03,"y":1.48},{"x":-0.10,"y":1.46},{"x":0.88,"y":1.39},{"x":0.78,"y":1.42},{"x":0.68,"y":1.43},{"x":0.58,"y":1.44},{"x":0.48,"y":1.45},{"x":0.38,"y":1.45},{"x":0.28,"y":1.44},{"x":0.18,"y":1.43},{"x":0.08,"y":1.41},{"x":-0.02,"y":1.39},
{"x":0.95,"y":1.40},{"x":0.96,"y":1.31},{"x":0.97,"y":1.22},{"x":0.97,"y":1.13},{"x":0.97,"y":1.04},{"x":0.97,"y":0.95},{"x":0.96,"y":0.86},{"x":0.96,"y":0.77},{"x":0.95,"y":0.68},{"x":0.94,"y":0.59},{"x":0.93,"y":0.50},{"x":0.92,"y":0.41},{"x":0.91,"y":0.32},{"x":0.90,"y":0.23},{"x":0.89,"y":0.14},{"x":0.88,"y":0.05},{"x":0.87,"y":-0.04},{"x":0.87,"y":1.30},{"x":0.88,"y":1.18},{"x":0.88,"y":1.06},{"x":0.88,"y":0.94},{"x":0.87,"y":0.82},{"x":0.86,"y":0.70},{"x":0.85,"y":0.58},{"x":0.84,"y":0.46},{"x":0.83,"y":0.34},{"x":0.81,"y":0.22},{"x":0.80,"y":0.10},
{"x":0.76,"y":1.38},{"x":0.71,"y":1.30},{"x":0.67,"y":1.21},{"x":0.62,"y":1.13},{"x":0.57,"y":1.05},{"x":0.52,"y":0.96},{"x":0.48,"y":0.88},{"x":0.43,"y":0.80},{"x":0.38,"y":0.71},{"x":0.33,"y":0.63},{"x":0.29,"y":0.55},{"x":0.24,"y":0.46},{"x":0.19,"y":0.38},{"x":0.14,"y":0.30},{"x":0.10,"y":0.21},{"x":0.05,"y":0.13},{"x":0.00,"y":0.05},{"x":0.66,"y":1.36},{"x":0.58,"y":1.22},{"x":0.50,"y":1.08},{"x":0.41,"y":0.94},{"x":0.33,"y":0.80},{"x":0.25,"y":0.66},{"x":0.17,"y":0.52},{"x":0.09,"y":0.38},{"x":0.01,"y":0.24},
{"x":1.65,"y":-0.70},{"x":1.57,"y":-0.72},{"x":1.49,"y":-0.73},{"x":1.41,"y":-0.74},{"x":1.33,"y":-0.75},{"x":1.25,"y":-0.75},{"x":1.17,"y":-0.76},{"x":1.09,"y":-0.76},{"x":1.01,"y":-0.77},{"x":0.93,"y":-0.77},{"x":0.85,"y":-0.77},{"x":0.77,"y":-0.77},{"x":0.69,"y":-0.77},{"x":0.61,"y":-0.77},{"x":0.53,"y":-0.76},{"x":0.45,"y":-0.76},{"x":0.37,"y":-0.75},{"x":0.29,"y":-0.75},{"x":0.21,"y":-0.74},{"x":0.13,"y":-0.73},{"x":0.05,"y":-0.72},{"x":-0.03,"y":-0.70},{"x":1.55,"y":-0.82},{"x":1.43,"y":-0.84},{"x":1.31,"y":-0.85},{"x":1.19,"y":-0.86},{"x":1.07,"y":-0.87},{"x":0.95,"y":-0.87},{"x":0.83,"y":-0.87},{"x":0.71,"y":-0.87},{"x":0.59,"y":-0.86},{"x":0.47,"y":-0.85},{"x":0.35,"y":-0.84},{"x":0.23,"y":-0.83},{"x":0.11,"y":-0.82},
{"x":1.68,"y":-0.62},{"x":1.71,"y":-0.52},{"x":1.72,"y":-0.42},{"x":1.70,"y":-0.32},{"x":1.66,"y":-0.23},{"x":1.60,"y":-0.15},{"x":1.53,"y":-0.09},{"x":1.45,"y":-0.05},{"x":1.37,"y":-0.03},{"x":1.29,"y":-0.03},{"x":1.21,"y":-0.04},{"x":1.13,"y":-0.06},{"x":1.05,"y":-0.09},{"x":0.98,"y":-0.13},{"x":0.92,"y":-0.19},{"x":0.87,"y":-0.27},{"x":0.82,"y":-0.35},{"x":0.78,"y":-0.44},{"x":0.74,"y":-0.53},{"x":0.71,"y":-0.62},
{"x":1.52,"y":1.34},{"x":1.42,"y":1.34},{"x":1.47,"y":1.24},{"x":1.52,"y":1.04},{"x":1.42,"y":1.04},{"x":1.47,"y":1.14},{"x":1.55,"y":0.88},{"x":1.45,"y":0.88},{"x":1.50,"y":0.78},{"x":1.57,"y":0.56},{"x":1.47,"y":0.56},{"x":1.52,"y":0.66},{"x":1.55,"y":0.42},{"x":1.45,"y":0.42},{"x":1.50,"y":0.32},{"x":1.53,"y":0.11},{"x":1.43,"y":0.11},{"x":1.48,"y":0.21},
{"x":1.90,"y":-0.51},{"x":1.80,"y":-0.51},{"x":1.85,"y":-0.61},{"x":1.91,"y":-0.84},{"x":1.81,"y":-0.84},{"x":1.86,"y":-0.74},
{"x":1.27,"y":1.29},{"x":1.17,"y":1.29},{"x":1.22,"y":1.19},{"x":1.25,"y":0.68},{"x":1.15,"y":0.68},{"x":1.20,"y":0.78},{"x":1.30,"y":0.39},{"x":1.20,"y":0.39},{"x":1.25,"y":0.29},
{"x":1.35,"y":1.14},{"x":1.25,"y":1.14},{"x":1.30,"y":1.04},{"x":1.17,"y":0.91},{"x":1.07,"y":0.91},{"x":1.12,"y":1.01},{"x":1.38,"y":0.59},{"x":1.28,"y":0.59},{"x":1.33,"y":0.49},{"x":1.15,"y":0.46},{"x":1.05,"y":0.46},{"x":1.10,"y":0.56},{"x":1.17,"y":0.26},{"x":1.07,"y":0.26},{"x":1.12,"y":0.16},{"x":0.20,"y":0.91},{"x":0.10,"y":0.91},{"x":0.15,"y":1.01},{"x":0.60,"y":0.09},{"x":0.50,"y":0.09},{"x":0.55,"y":-0.01},{"x":0.33,"y":-0.09},{"x":0.23,"y":-0.09},{"x":0.28,"y":0.01},
{"x":1.85,"y":-0.98},{"x":1.75,"y":-0.98},{"x":1.80,"y":-1.08},{"x":1.62,"y":-1.21},{"x":1.52,"y":-1.21},{"x":1.57,"y":-1.11},{"x":1.39,"y":-1.20},{"x":1.29,"y":-1.20},{"x":1.34,"y":-1.30},{"x":1.16,"y":-1.35},{"x":1.06,"y":-1.35},{"x":1.11,"y":-1.25},{"x":0.87,"y":-1.31},{"x":0.77,"y":-1.31},{"x":0.82,"y":-1.41},{"x":0.47,"y":-1.43},{"x":0.37,"y":-1.43},{"x":0.42,"y":-1.33},{"x":0.12,"y":-1.27},{"x":0.02,"y":-1.27},{"x":0.07,"y":-1.37},
{"x":1.35,"y":1.48},{"x":1.25,"y":1.48},{"x":1.30,"y":1.58},{"x":1.21,"y":1.70},{"x":1.11,"y":1.70},{"x":1.16,"y":1.60},{"x":1.04,"y":1.72},{"x":0.94,"y":1.72},{"x":0.99,"y":1.82},{"x":0.89,"y":1.90},{"x":0.79,"y":1.90},{"x":0.84,"y":1.80},{"x":0.71,"y":1.82},{"x":0.61,"y":1.82},{"x":0.66,"y":1.92},{"x":0.52,"y":1.80},{"x":0.42,"y":1.80},{"x":0.47,"y":1.70},{"x":0.35,"y":1.64},{"x":0.25,"y":1.64},{"x":0.30,"y":1.74},{"x":0.18,"y":1.66},{"x":0.08,"y":1.66},{"x":0.13,"y":1.56},
{"x":0.17,"y":1.16},{"x":0.07,"y":1.16},{"x":0.12,"y":1.26},{"x":-0.09,"y":1.19},{"x":-0.19,"y":1.19},{"x":-0.14,"y":1.09},{"x":-0.30,"y":1.01},{"x":-0.40,"y":1.01},{"x":-0.35,"y":1.11},
{"x":0.60,"y":-0.31},{"x":0.50,"y":-0.31},{"x":0.55,"y":-0.41},{"x":0.40,"y":-0.29},{"x":0.30,"y":-0.29},{"x":0.35,"y":-0.19},{"x":0.45,"y":-0.51},{"x":0.35,"y":-0.51},{"x":0.40,"y":-0.61},{"x":0.23,"y":-0.49},{"x":0.13,"y":-0.49},{"x":0.18,"y":-0.39}
]
},
"vconcat": [
  {"hconcat": [
    {"title": {"text": "a) 27 Hz", "orient": "bottom", "font": "Lato", "fontSize": 19, "fontWeight": "bold", "color": "#111", "anchor": "middle", "frame": "bounds", "offset": 14},
     "vconcat": [{
      "title": {"text": "before sigcomp for fd=27;", "font": "Liberation Sans", "fontSize": 10.5, "fontWeight": "normal", "color": "#222", "offset": 1, "anchor": "middle"},
      "width": 464, "height": 363, "data": {"name": "a"},
      "mark": {"type": "point", "shape": "circle", "filled": false, "color": "#0000ff", "size": 34, "strokeWidth": 1.6, "opacity": 0.75},
      "encoding": {
        "x": {"field": "x", "type": "quantitative", "scale": {"domain": [-5, 5], "nice": false}, "axis": {"title": "In-phase", "values": [-5,-4,-3,-2,-1,0,1,2,3,4,5]}},
        "y": {"field": "y", "type": "quantitative", "scale": {"domain": [-5, 5], "nice": false, "reverse": true}, "axis": {"title": "Quadrature", "values": [-5,-4,-3,-2,-1,0,1,2,3,4,5]}}
      }}]},
    {"title": {"text": "b) 550 Hz", "orient": "bottom", "font": "Lato", "fontSize": 19, "fontWeight": "bold", "color": "#111", "anchor": "middle", "frame": "bounds", "offset": 14},
     "vconcat": [{
      "title": {"text": "before sigcomp for fd=550;", "font": "Liberation Sans", "fontSize": 10.5, "fontWeight": "normal", "color": "#222", "offset": 1, "anchor": "middle"},
      "width": 460, "height": 363, "data": {"name": "b"},
      "mark": {"type": "point", "shape": "circle", "filled": false, "color": "#0000ff", "size": 40, "strokeWidth": 1.8},
      "encoding": {
        "x": {"field": "x", "type": "quantitative", "scale": {"domain": [-3, 3], "nice": false}, "axis": {"title": "In-phase", "values": [-3,-2,-1,0,1,2,3]}},
        "y": {"field": "y", "type": "quantitative", "scale": {"domain": [-3, 3], "nice": false, "reverse": true}, "axis": {"title": "Quadrature", "values": [-3,-2,-1,0,1,2,3]}}
      }}]}
  ], "spacing": 28},
  {"hconcat": [
    {"title": {"text": "c) 1300 Hz", "orient": "bottom", "font": "Lato", "fontSize": 19, "fontWeight": "bold", "color": "#111", "anchor": "middle", "frame": "bounds", "offset": 10},
     "vconcat": [{
      "title": {"text": "before sigcomp for fd=1300;", "font": "Liberation Sans", "fontSize": 10.5, "fontWeight": "normal", "color": "#222", "offset": 1, "anchor": "middle"},
      "width": 462, "height": 359, "data": {"name": "c"},
      "mark": {"type": "point", "shape": "circle", "filled": false, "color": "#0000ff", "size": 40, "strokeWidth": 1.8},
      "encoding": {
        "x": {"field": "x", "type": "quantitative", "scale": {"domain": [-5, 5], "nice": false}, "axis": {"title": "In-phase", "values": [-5,-4,-3,-2,-1,0,1,2,3,4,5]}},
        "y": {"field": "y", "type": "quantitative", "scale": {"domain": [-5, 5], "nice": false, "reverse": true}, "axis": {"title": "Quadrature", "values": [-5,-4,-3,-2,-1,0,1,2,3,4,5]}}
      }}]},
    {"title": {"text": "d) 3800 Hz", "orient": "bottom", "font": "Lato", "fontSize": 19, "fontWeight": "bold", "color": "#111", "anchor": "middle", "frame": "bounds", "offset": 10},
     "vconcat": [{
      "title": {"text": "before sigcomp for fd=3800;", "font": "Liberation Sans", "fontSize": 10.5, "fontWeight": "normal", "color": "#222", "offset": 1, "anchor": "middle"},
      "width": 458, "height": 361, "data": {"name": "d"},
      "mark": {"type": "point", "shape": "circle", "filled": false, "color": "#0000ff", "size": 46, "strokeWidth": 1.2, "opacity": 0.8},
      "encoding": {
        "x": {"field": "x", "type": "quantitative", "scale": {"domain": [-4, 4], "nice": false}, "axis": {"title": "In-phase", "values": [-4,-3,-2,-1,0,1,2,3,4]}},
        "y": {"field": "y", "type": "quantitative", "scale": {"domain": [-4, 4], "nice": false, "reverse": true}, "axis": {"title": "Quadrature", "values": [-4,-3,-2,-1,0,1,2,3,4]}}
      }}]}
  ], "spacing": 31}
],
"spacing": 48
}
